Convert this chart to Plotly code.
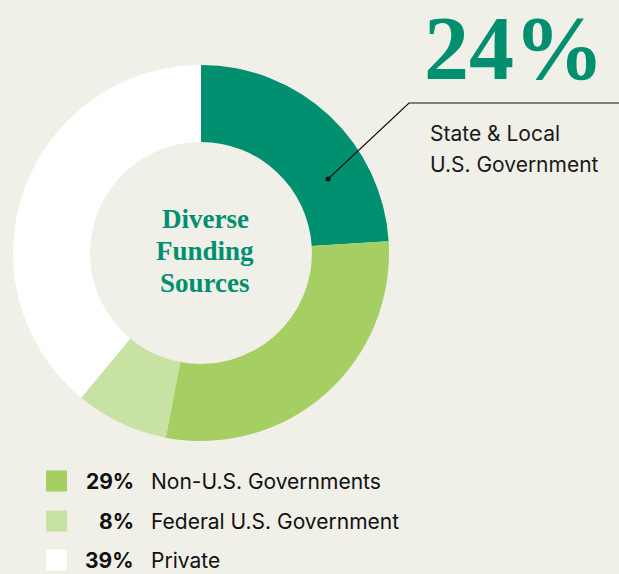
import plotly.graph_objects as go

labels = ["State & Local U.S. Government", "Non-U.S. Governments", "Federal U.S. Government", "Private"]
values = [24, 29, 8, 39]
colors = ["#008f6f", "#a5cf63", "#c7e2a2", "#ffffff"]

BG = "#f0efe8"
GREEN = "#008f6f"
W, H = 619, 574


def px(x):
    return x / W


def py(y):
    return 1 - y / H


fig = go.Figure(go.Pie(
    labels=labels,
    values=values,
    marker=dict(colors=colors, line=dict(width=0)),
    hole=0.59,
    sort=False,
    direction="clockwise",
    rotation=0,
    textinfo="none",
    hoverinfo="label+percent",
    showlegend=False,
    domain=dict(x=[px(201 - 188), px(201 + 188)], y=[py(253 + 188), py(253 - 188)]),
))

ann = []
# centre title, one line each so the spacing matches
for t, yy in zip(["Diverse", "Funding", "Sources"], [219, 251, 283]):
    ann.append(dict(
        x=px(205), y=py(yy), xref="paper", yref="paper", showarrow=False,
        text="<b>%s</b>" % t,
        font=dict(family="Liberation Serif", size=27, color=GREEN),
        xanchor="center", yanchor="middle",
    ))
# big callout for first slice
ann.append(dict(
    x=px(514), y=py(48), xref="paper", yref="paper", showarrow=False,
    text="<b>%d%%</b>" % values[0],
    font=dict(family="Liberation Serif", size=90, color=GREEN),
    xanchor="center", yanchor="middle", height=84, valign="middle",
))
for t, yy in zip(["State & Local", "U.S. Government"], [134, 165]):
    ann.append(dict(
        x=px(428), y=py(yy), xref="paper", yref="paper", showarrow=False,
        text=t,
        font=dict(family="Inter", size=21, color="#1a1a1a"),
        xanchor="left", yanchor="middle",
    ))

# custom legend for the remaining slices
shapes = []
ys = [481, 521, 560]
for i, yy in zip(range(1, len(values)), ys):
    shapes.append(dict(
        type="rect", xref="paper", yref="paper",
        x0=px(46), x1=px(67), y0=py(yy - 10.5), y1=py(yy + 10.5),
        fillcolor=colors[i], line=dict(width=0),
    ))
    ann.append(dict(
        x=px(136), y=py(yy), xref="paper", yref="paper", showarrow=False,
        text="<b>%d%%</b>" % values[i],
        font=dict(family="Inter", size=21, color="#111111"),
        xanchor="right", yanchor="middle",
    ))
    ann.append(dict(
        x=px(149), y=py(yy), xref="paper", yref="paper", showarrow=False,
        text=labels[i],
        font=dict(family="Inter", size=21, color="#111111"),
        xanchor="left", yanchor="middle",
    ))

# leader line
shapes.append(dict(type="path", xref="paper", yref="paper",
                   path="M %f,%f L %f,%f L %f,%f" % (px(328), py(179), px(409), py(103), px(619), py(103)),
                   line=dict(color="#111111", width=1.2)))
shapes.append(dict(type="circle", xref="paper", yref="paper",
                   x0=px(325.5), x1=px(330.5), y0=py(181.5), y1=py(176.5),
                   fillcolor="#111111", line=dict(width=0)))

fig.update_layout(
    width=W, height=H,
    margin=dict(l=0, r=0, t=0, b=0),
    paper_bgcolor=BG, plot_bgcolor=BG,
    annotations=ann,
    shapes=shapes,
)

fig.write_html("out.html", config={"displayModeBar": False},
               post_script="document.body.style.margin='0';document.body.style.padding='0';")
